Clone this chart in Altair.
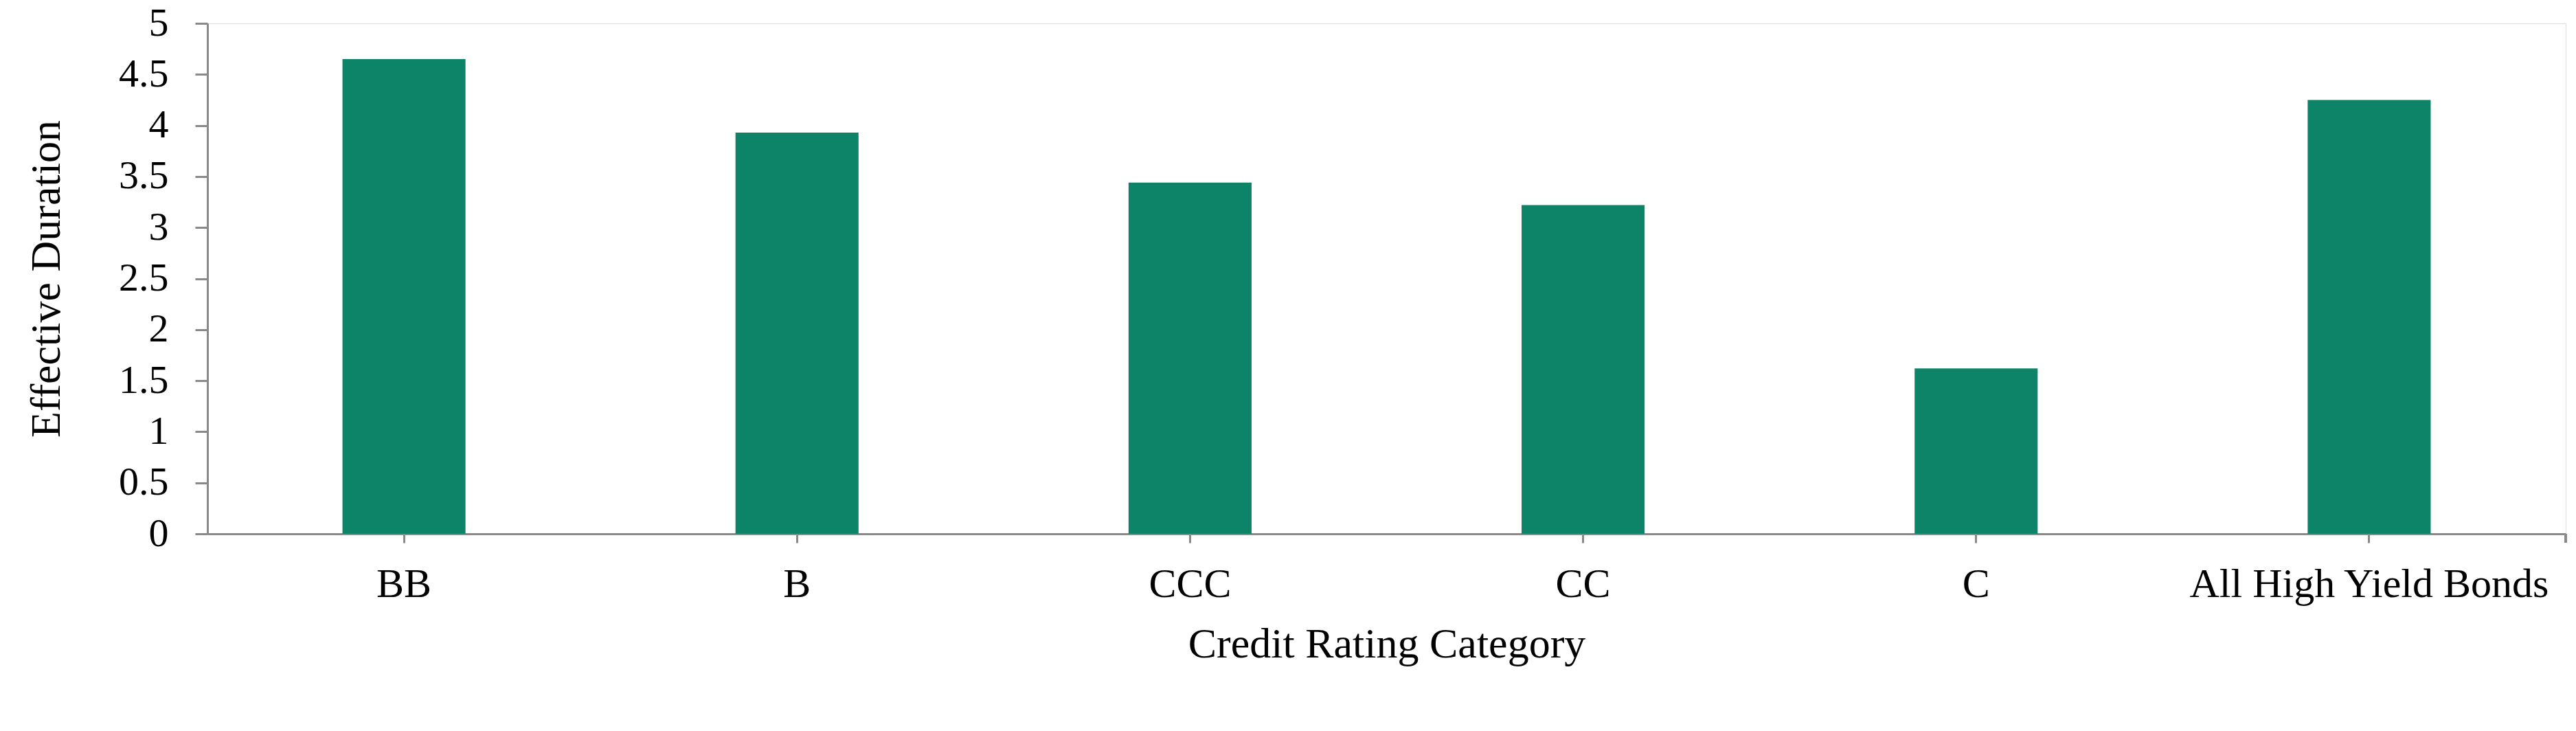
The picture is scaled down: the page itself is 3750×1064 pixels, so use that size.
import altair as alt
import pandas as pd

categories = ["BB", "B", "CCC", "CC", "C", "All High Yield Bonds"]
durations = [4.65, 3.93, 3.44, 3.22, 1.62, 4.25]
y_ticks = [0, 0.5, 1, 1.5, 2, 2.5, 3, 3.5, 4, 4.5, 5]

df = pd.DataFrame({"category": categories, "duration": durations})

FONT = "Liberation Serif"
AXIS_GRAY = "#898989"
BAR_COLOR = "#0d8468"

bars = alt.Chart(df).mark_bar(color=BAR_COLOR).encode(
    x=alt.X(
        "category:N",
        sort=categories,
        title="Credit Rating Category",
        scale=alt.Scale(paddingInner=0.687, paddingOuter=0.3435),
        axis=alt.Axis(
            labelAngle=0,
            labelFont=FONT,
            labelFontSize=60,
            labelColor="black",
            labelPadding=31,
            labelLimit=0,
            tickSize=13,
            tickWidth=3,
            tickColor=AXIS_GRAY,
            domainColor=AXIS_GRAY,
            domainWidth=3,
            titleFont=FONT,
            titleFontSize=62,
            titleFontWeight="normal",
            titleColor="black",
            titlePadding=27,
            grid=False,
        ),
    ),
    y=alt.Y(
        "duration:Q",
        title="Effective Duration",
        scale=alt.Scale(domain=[0, 5], nice=False),
        axis=alt.Axis(
            values=y_ticks,
            format="~g",
            labelFont=FONT,
            labelFontSize=58,
            labelColor="black",
            labelPadding=39,
            tickSize=18,
            tickWidth=3,
            tickColor=AXIS_GRAY,
            domainColor=AXIS_GRAY,
            domainWidth=3,
            titleFont=FONT,
            titleFontSize=62,
            titleFontWeight="normal",
            titleColor="black",
            titlePadding=73,
            grid=False,
        ),
    ),
)

end_tick = alt.Chart(df).mark_rule(color=AXIS_GRAY, strokeWidth=3, y2Offset=13).encode(
    x=alt.value("width"),
    y=alt.value("height"),
    y2=alt.value("height"),
)

chart = (
    alt.layer(bars, end_tick)
    .properties(
        width=3433,
        height=743,
        autosize=alt.AutoSizeParams(type="none"),
        padding={"left": 294, "top": 26, "right": 6, "bottom": 250},
    )
    .configure_view(stroke=None)
    .configure(background="white")
)

chart.save("out.html", embed_options={"renderer": "svg", "actions": False})
